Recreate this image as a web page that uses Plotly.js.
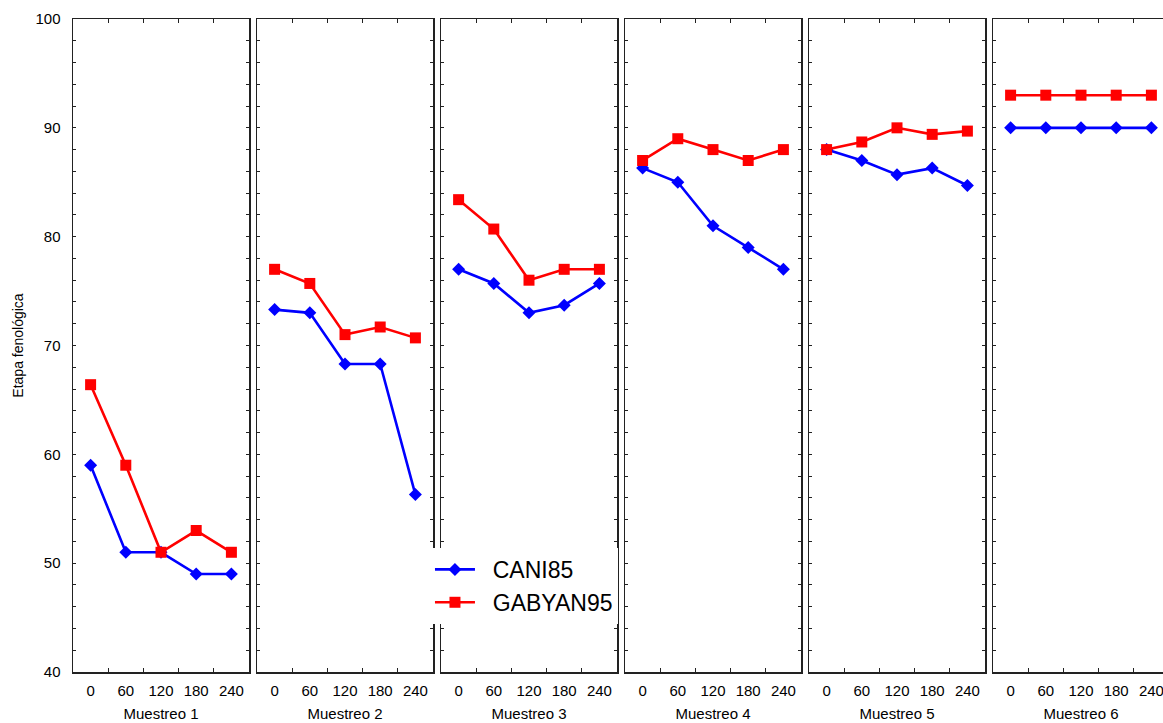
<!DOCTYPE html>
<html>
<head>
<meta charset="utf-8">
<script src="https://cdn.plot.ly/plotly-3.0.1.min.js"></script>
<style>
html,body{margin:0;padding:0;overflow:hidden;background:#fff;}
#chart{width:1170px;height:723px;}
</style>
</head>
<body>
<div id="chart"></div>
<script>
// Data
const times = ['0', '60', '120', '180', '240'];
const panels = ['Muestreo 1', 'Muestreo 2', 'Muestreo 3', 'Muestreo 4', 'Muestreo 5', 'Muestreo 6'];
const seriesNames = ['CANI85', 'GABYAN95'];
const cani85 = [
  [59, 51, 51, 49, 49],
  [73.3, 73, 68.3, 68.3, 56.3],
  [77, 75.7, 73, 73.7, 75.7],
  [86.3, 85, 81, 79, 77],
  [88, 87, 85.7, 86.3, 84.7],
  [90, 90, 90, 90, 90]
];
const gabyan95 = [
  [66.4, 59, 51, 53, 51],
  [77, 75.7, 71, 71.7, 70.7],
  [83.4, 80.7, 76, 77, 77],
  [87, 89, 88, 87, 88],
  [88, 88.7, 90, 89.4, 89.7],
  [93, 93, 93, 93, 93]
];
const yTitle = 'Etapa fenológica';

const FONT = 'Liberation Sans, Arial, sans-serif';
const AX = '#222222';
const NB = '\u00a0\u00a0';
const traces = [];
const layout = {
  width: 1170, height: 723,
  margin: {l: 73, r: 1, t: 19, b: 51},
  paper_bgcolor: '#ffffff', plot_bgcolor: '#ffffff',
  font: {family: FONT, color: '#000000', size: 14},
  showlegend: true,
  legend: {
    x: 0.3257, y: 0.19, xanchor: 'left', yanchor: 'top',
    bgcolor: '#ffffff', borderwidth: 0,
    font: {family: FONT, size: 23, color: '#000000'},
    itemwidth: 40, tracegroupgap: 0
  }
};
const plotW = 1096, pw = 176, pitch = 184;
panels.forEach((name, i) => {
  const k = i === 0 ? '' : String(i + 1);
  const xa = 'x' + k, ya = 'y' + k;
  traces.push({
    type: 'scatter', mode: 'lines+markers', x: times, y: cani85[i],
    xaxis: xa, yaxis: ya, name: NB + seriesNames[0], legendgroup: 'c', showlegend: i === 0,
    line: {color: '#0000ff', width: 2.6},
    marker: {symbol: 'diamond', size: 10, color: '#0000ff'}
  });
  traces.push({
    type: 'scatter', mode: 'lines+markers', x: times, y: gabyan95[i],
    xaxis: xa, yaxis: ya, name: NB + seriesNames[1], legendgroup: 'g', showlegend: i === 0,
    line: {color: '#ff0000', width: 2.6},
    marker: {symbol: 'square', size: 11, color: '#ff0000'}
  });
  const d0 = i * pitch / plotW, d1 = (i * pitch + pw) / plotW;
  layout['xaxis' + k] = {
    domain: [d0, Math.min(d1, 1)], anchor: ya, type: 'category',
    categoryorder: 'array', categoryarray: times,
    range: [-0.5, 4.5], fixedrange: true,
    showline: true, linecolor: AX, linewidth: 1.5, mirror: 'ticks',
    ticks: 'inside', ticklen: 4, tickcolor: AX, tickwidth: 1, tickson: 'boundaries',
    showgrid: false, zeroline: false, ticklabelstandoff: 4,
    tickfont: {family: FONT, size: 15, color: '#000'},
    title: {text: name, font: {family: FONT, size: 15, color: '#000'}, standoff: 11}
  };
  layout['yaxis' + k] = {
    domain: [0, 1], anchor: xa, range: [40, 100], fixedrange: true,
    showline: true, linecolor: AX, linewidth: 1.5, mirror: 'ticks',
    ticks: 'inside', ticklen: 3, tickcolor: AX, tickwidth: 1,
    tick0: 40, dtick: 10,
    minor: {dtick: 2, ticks: 'inside', ticklen: 3, tickcolor: AX, tickwidth: 1, showgrid: false},
    showgrid: false, zeroline: false,
    showticklabels: i === 0, ticklabelstandoff: 8,
    tickfont: {family: FONT, size: 15, color: '#000'},
    title: i === 0 ? {text: yTitle, font: {family: FONT, size: 14, color: '#000'}, standoff: 8} : {text: ''}
  };
});
Plotly.newPlot('chart', traces, layout, {displayModeBar: false, staticPlot: true});
</script>
</body>
</html>
